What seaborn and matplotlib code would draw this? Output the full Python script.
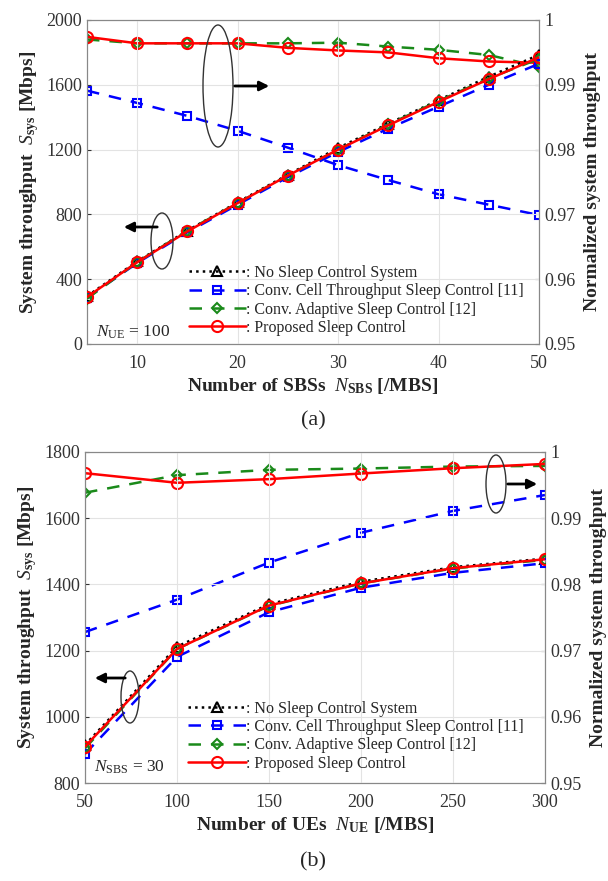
import matplotlib
matplotlib.use("Agg")
import matplotlib.pyplot as plt
from matplotlib.patches import Arc, FancyArrowPatch
import seaborn as sns
import numpy as np

# ---- data (a): vs number of SBSs, N_UE = 100
n_sbs = [5, 10, 15, 20, 25, 30, 35, 40, 45, 50]
a_thr_nosleep = [295, 510, 700, 875, 1045, 1210, 1360, 1505, 1650, 1785]
a_thr_cell = [285, 500, 690, 860, 1030, 1185, 1330, 1465, 1600, 1730]
a_thr_adapt = [280, 505, 700, 870, 1040, 1200, 1355, 1500, 1640, 1760]
a_thr_prop = [290, 505, 695, 870, 1040, 1200, 1350, 1495, 1635, 1770]
a_norm_cell = [0.9891, 0.9872, 0.9852, 0.9829, 0.9803, 0.9776, 0.9753, 0.9731, 0.9715, 0.9699]
a_norm_adapt = [0.9970, 0.9964, 0.9964, 0.9964, 0.9964, 0.9965, 0.9959, 0.9954, 0.9946, 0.9928]
a_norm_prop = [0.9974, 0.9964, 0.9964, 0.9964, 0.9957, 0.9953, 0.9950, 0.9941, 0.9936, 0.9934]

# ---- data (b): vs number of UEs, N_SBS = 30
n_ue = [50, 100, 150, 200, 250, 300]
b_thr_nosleep = [915, 1212, 1340, 1408, 1452, 1478]
b_thr_cell = [888, 1181, 1316, 1390, 1435, 1464]
b_thr_adapt = [905, 1205, 1335, 1403, 1448, 1474]
b_thr_prop = [910, 1205, 1336, 1403, 1449, 1476]
b_norm_cell = [0.9728, 0.9777, 0.9833, 0.9878, 0.9911, 0.9935]
b_norm_adapt = [0.99385, 0.9965, 0.9973, 0.9975, 0.9978, 0.9979]
b_norm_prop = [0.9968, 0.99535, 0.9959, 0.99675, 0.99755, 0.9982]

labels = [": No Sleep Control System",
          ": Conv. Cell Throughput Sleep Control [11]",
          ": Conv. Adaptive Sleep Control [12]",
          ": Proposed Sleep Control"]

sns.set_style("whitegrid")
plt.rcParams['font.family'] = ['Liberation Serif', 'DejaVu Serif']
plt.rcParams['mathtext.fontset'] = 'custom'
plt.rcParams['mathtext.rm'] = 'Liberation Serif'
plt.rcParams['mathtext.it'] = 'Liberation Serif:italic'
plt.rcParams['mathtext.bf'] = 'Liberation Serif:bold'

W, H = 608, 881
fig = plt.figure(figsize=(W / 100, H / 100), dpi=100)


def fx(px):
    return px / W


def fy(py):
    return 1 - py / H


styles = [
    dict(color='black', linestyle=':', marker='^'),
    dict(color='#0000ff', linestyle=(0, (5, 4)), marker='s'),
    dict(color='#1a8a1a', linestyle=(0, (5, 4)), marker='D'),
    dict(color='#ff0000', linestyle='-', marker='o'),
]
msizes = [7, 6, 5.5, 8]


def draw(ax, x, series):
    for i, (y, st) in enumerate(zip(series, styles)):
        if y is None:
            continue
        sns.lineplot(x=x, y=y, ax=ax, color=st['color'], linestyle=st['linestyle'],
                     marker=st['marker'], markersize=msizes[i], markerfacecolor='none',
                     markeredgecolor=st['color'], markeredgewidth=1.5, linewidth=1.8,
                     label=labels[i], legend=False, zorder=3 + i)


def style_axes(ax, ax2):
    for a in (ax, ax2):
        a.tick_params(direction='in', labelsize=13, length=3, colors='#333333')
        for s in a.spines.values():
            s.set_color('#888888')
            s.set_linewidth(0.8)
    ax.tick_params(axis='x', pad=8)
    ax2.tick_params(axis='y', pad=4)
    ax.grid(True, color='#e3e3e3', linewidth=0.8)
    ax2.grid(False)
    ax.set_zorder(ax2.get_zorder() + 1)
    ax.patch.set_visible(False)


def ellipse(cx, cy, w, h, t1=0, t2=360):
    fig.patches.append(Arc((fx(cx), fy(cy)), w / W, h / H, theta1=t1, theta2=t2,
                           transform=fig.transFigure, color='#333333', lw=1.0))


def arrow(x1, y1, x2, y2):
    fig.patches.append(FancyArrowPatch((fx(x1), fy(y1)), (fx(x2), fy(y2)),
                                       transform=fig.transFigure, arrowstyle='-|>',
                                       mutation_scale=14, color='black', lw=2))


# ---------- panel (a)
ax = fig.add_axes([fx(87), fy(344), fx(539) - fx(87), fy(20) - fy(344)])
ax2 = ax.twinx()
draw(ax, n_sbs, [a_thr_nosleep, a_thr_cell, a_thr_adapt, a_thr_prop])
draw(ax2, n_sbs, [None, a_norm_cell, a_norm_adapt, a_norm_prop])
ax.set_xlim(5, 50)
ax.set_ylim(0, 2000)
ax.set_xticks([10, 20, 30, 40, 50])
ax.set_yticks([0, 400, 800, 1200, 1600, 2000])
ax2.set_ylim(0.95, 1.0)
ax2.set_yticks([0.95, 0.96, 0.97, 0.98, 0.99, 1.0])
ax2.set_yticklabels(['0.95', '0.96', '0.97', '0.98', '0.99', '1'])
style_axes(ax, ax2)
ax.set_xlabel(r"Number of SBSs  $\mathit{N}_{\mathbf{SBS}}$ [/MBS]", fontsize=14,
              fontweight='bold', labelpad=3)
ax.set_ylabel(r"System throughput  $\mathit{S}_{\mathbf{sys}}$ [Mbps]", fontsize=14,
              fontweight='bold', labelpad=4)
ax2.set_ylabel("Normalized system throughput", fontsize=14, fontweight='bold', labelpad=6)
ax.legend(loc='lower left', bbox_to_anchor=(0.2, -0.01), frameon=False, fontsize=11.5,
          handlelength=3.6, handletextpad=0.0, labelspacing=0.15, borderpad=0.2)
ax.text(0.02, 0.01, r"$\mathit{N}_{\mathrm{UE}}$ = 100", transform=ax.transAxes,
        fontsize=12.5, va='bottom')
ellipse(218, 86, 30, 122)
arrow(232, 86, 272, 86)
ellipse(162, 241, 22, 56)
arrow(160, 227, 121, 227)
fig.text(fx(313), fy(421), "(a)", fontsize=16, ha='center', va='center')

# ---------- panel (b)
bx = fig.add_axes([fx(85), fy(783), fx(545) - fx(85), fy(452) - fy(783)])
bx2 = bx.twinx()
draw(bx, n_ue, [b_thr_nosleep, b_thr_cell, b_thr_adapt, b_thr_prop])
draw(bx2, n_ue, [None, b_norm_cell, b_norm_adapt, b_norm_prop])
bx.set_xlim(50, 300)
bx.set_ylim(800, 1800)
bx.set_xticks([50, 100, 150, 200, 250, 300])
bx.set_yticks([800, 1000, 1200, 1400, 1600, 1800])
bx2.set_ylim(0.95, 1.0)
bx2.set_yticks([0.95, 0.96, 0.97, 0.98, 0.99, 1.0])
bx2.set_yticklabels(['0.95', '0.96', '0.97', '0.98', '0.99', '1'])
style_axes(bx, bx2)
bx.set_xlabel(r"Number of UEs  $\mathit{N}_{\mathbf{UE}}$ [/MBS]", fontsize=14,
              fontweight='bold', labelpad=3)
bx.set_ylabel(r"System throughput  $\mathit{S}_{\mathbf{sys}}$ [Mbps]", fontsize=14,
              fontweight='bold', labelpad=4)
bx2.set_ylabel("Normalized system throughput", fontsize=14, fontweight='bold', labelpad=6)
bx.legend(loc='lower left', bbox_to_anchor=(0.2, 0.0), frameon=False, fontsize=11.5,
          handlelength=3.6, handletextpad=0.0, labelspacing=0.15, borderpad=0.2)
bx.text(0.02, 0.02, r"$\mathit{N}_{\mathrm{SBS}}$ = 30", transform=bx.transAxes,
        fontsize=12.5, va='bottom')
ellipse(496, 484, 20, 58)
arrow(505, 484, 540, 484)
ellipse(130, 697, 18, 52)
arrow(128, 678, 92, 678)
fig.text(fx(313), fy(862), "(b)", fontsize=16, ha='center', va='center')

fig.savefig("out.png", dpi=100)
